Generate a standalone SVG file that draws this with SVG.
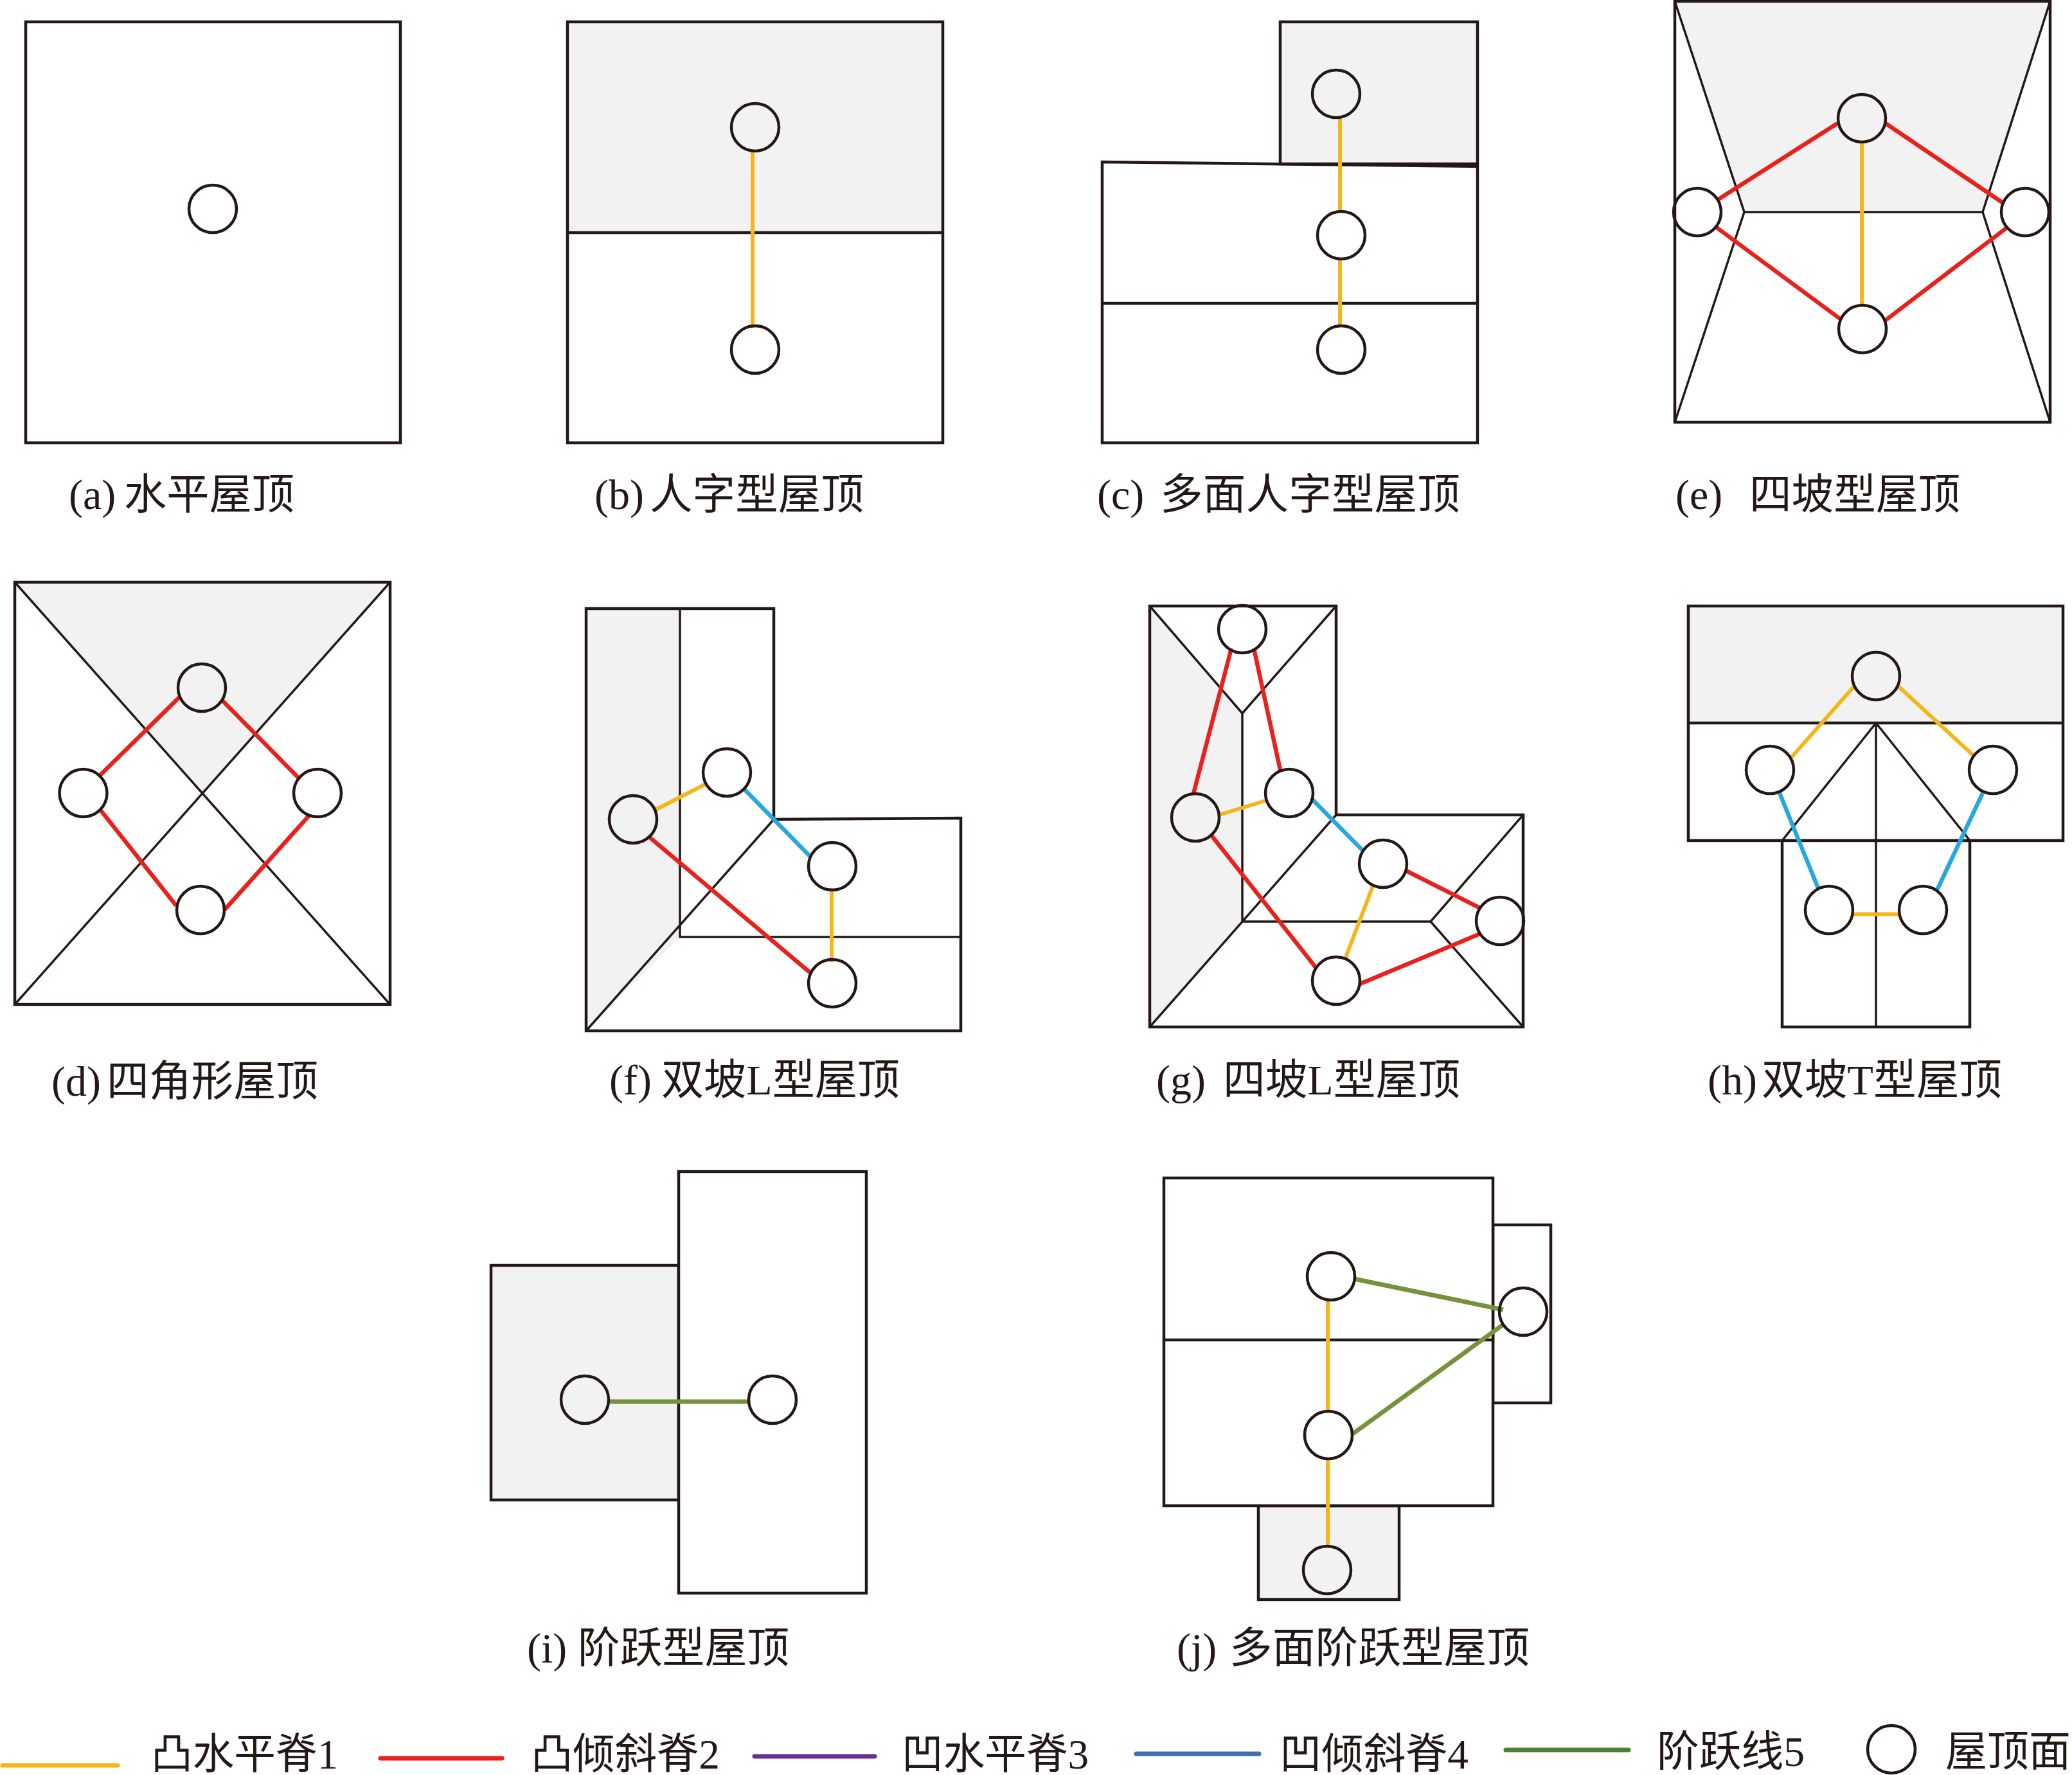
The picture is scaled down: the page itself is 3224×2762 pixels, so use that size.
<svg xmlns="http://www.w3.org/2000/svg" width="3224" height="2762" viewBox="0 0 3224 2762">
<style>
.o{fill:none;stroke:#231815;stroke-width:4.500;stroke-linejoin:miter}
.w{fill:#fff;stroke:#231815;stroke-width:4.500}
.g{fill:#f2f2f2;stroke:none}
.gs{fill:#f2f2f2;stroke:#231815;stroke-width:4.500}
.d{fill:none;stroke:#231815;stroke-width:3.500}
.n{fill:none;stroke:#231815;stroke-width:4.500}
.y{stroke:#f4b619;stroke-width:6;fill:none}
.r{stroke:#e8211d;stroke-width:6.500;fill:none}
.b{stroke:#27a7e0;stroke-width:6.500;fill:none}
.v{stroke:#76923c;stroke-width:7;fill:none}
.l{stroke-width:7;stroke-linecap:round;fill:none}
text{font-family:"Liberation Serif","Noto Sans CJK SC",serif;font-size:66px;fill:#231815}
</style>
<rect width="3224" height="2762" fill="#fff"/>
<g id="panel-a"><rect class="o" x="40" y="34" width="583" height="655"/><text x="107" y="792">(a)<tspan x="193" textLength="265" lengthAdjust="spacingAndGlyphs">水平屋顶</tspan></text></g>
<g id="panel-b"><rect class="g" x="883" y="34" width="584" height="328"/><rect class="o" x="883" y="34" width="584" height="655"/><path class="o" d="M883 362H1467"/><text x="925" y="792">(b)<tspan x="1011" textLength="333" lengthAdjust="spacingAndGlyphs">人字型屋顶</tspan></text></g>
<g id="panel-c"><rect class="gs" x="1992" y="34" width="307" height="221"/><path class="o" d="M1715 252L2299 259V689H1715ZM1715 472H2299"/><text x="1707" y="792">(c)<tspan x="1805" textLength="467" lengthAdjust="spacingAndGlyphs">多面人字型屋顶</tspan></text></g>
<g id="panel-e"><path class="g" d="M2606 2H3190L3085 330H2714Z"/><rect class="o" x="2606" y="2" width="584" height="655"/><path class="d" d="M2606 2L2714 330L2606 657M3190 2L3085 330L3190 657M2714 330H3085"/><text x="2607" y="792">(e)<tspan x="2722" textLength="328" lengthAdjust="spacingAndGlyphs">四坡型屋顶</tspan></text></g>
<g id="panel-d"><path class="g" d="M23 906H607L313 1235Z"/><rect class="o" x="23" y="906" width="584" height="657"/><path class="d" d="M23 906L607 1563M607 906L23 1563"/><text x="80" y="1705">(d)<tspan x="166" textLength="329" lengthAdjust="spacingAndGlyphs">四角形屋顶</tspan></text></g>
<g id="panel-f"><path class="g" d="M912 947H1058V1458L912 1604Z"/><path class="o" d="M912 947H1204V1275L1495 1273V1604H912Z"/><path class="d" d="M1058 947V1458H1495M1204 1275L912 1604"/><text x="948" y="1703">(f)<tspan x="1029" textLength="371" lengthAdjust="spacingAndGlyphs">双坡L型屋顶</tspan></text></g>
<g id="panel-g"><path class="g" d="M1789 943L1933 1110V1434L1789 1598Z"/><path class="o" d="M1789 943H2079V1268H2370V1598H1789Z"/><path class="d" d="M1789 943L1933 1110L2079 943M1933 1110V1434H2226L2370 1268M2226 1434L2370 1598M2079 1268L1789 1598"/><text x="1799" y="1703">(g)<tspan x="1903" textLength="369" lengthAdjust="spacingAndGlyphs">四坡L型屋顶</tspan></text></g>
<g id="panel-h"><rect class="g" x="2627" y="943" width="583" height="182"/><path class="o" d="M2627 943H3210V1308H2627ZM2627 1125H3210M2773 1308V1598H3065V1308"/><path class="d" d="M2919 1125V1598M2919 1125L2773 1308M2919 1125L3054 1294L3065 1308"/><text x="2657" y="1703">(h)<tspan x="2741" textLength="374" lengthAdjust="spacingAndGlyphs">双坡T型屋顶</tspan></text></g>
<g id="panel-i"><rect class="gs" x="764" y="1969" width="292" height="365"/><rect class="w" x="1056" y="1823" width="292" height="656"/><text x="820" y="2587">(i)<tspan x="899" textLength="329" lengthAdjust="spacingAndGlyphs">阶跃型屋顶</tspan></text></g>
<g id="panel-j"><rect class="gs" x="1958" y="2343" width="219" height="146"/><rect class="w" x="2323" y="1906" width="90" height="277"/><rect class="w" x="1811" y="1833" width="512" height="510"/><path class="o" d="M1811 2085H2323"/><text x="1831" y="2587">(j)<tspan x="1913" textLength="467" lengthAdjust="spacingAndGlyphs">多面阶跃型屋顶</tspan></text></g>
<g id="connectors">
<path class="y" d="M1171 233V510"/>
<path class="y" d="M2085 184V329M2085 403V507"/>
<path class="y" d="M2897 219V477"/>
<path class="r" d="M2674 310L2859 192M2934 192L3117 316M2671 354L2863 496M2933 499L3123 354"/>
<path class="r" d="M280 1084L156 1206M346 1090L466 1212M156 1260L274 1409M481 1269L350 1415"/>
<path class="y" d="M1018 1261L1098 1220M1294 1382V1497"/>
<path class="b" d="M1158 1228L1260 1332"/>
<path class="r" d="M1011 1303L1260 1513"/>
<path class="r" d="M1916 1009L1857 1235M1951 1009L1992 1198M1885 1300L2047 1505M2186 1354L2303 1413M2116 1531L2303 1453"/>
<path class="y" d="M1897 1268L1972 1245M2136 1379L2093 1492"/>
<path class="b" d="M2040 1242L2121 1324"/>
<path class="y" d="M2884 1069L2787 1179M2954 1068L3070 1175M2882 1422.500H2955"/>
<path class="b" d="M2769 1234L2829 1382M3085 1234L3014 1385"/>
<path class="v" d="M947 2181H1165M2107 1990L2339 2038M2105 2231L2339 2061"/>
<path class="y" d="M2066 2023V2197M2066 2272V2407"/>
</g>
<g id="nodes-a"><circle class="n" cx="331" cy="325" r="37"/></g>
<g id="nodes-b"><circle class="n" cx="1175" cy="198" r="37"/><circle class="n" cx="1175" cy="544" r="37"/></g>
<g id="nodes-c"><circle class="n" cx="2079" cy="146" r="37"/><circle class="n" cx="2087" cy="366" r="37"/><circle class="n" cx="2087" cy="544" r="37"/></g>
<g id="nodes-e"><circle class="n" cx="2641" cy="330" r="37"/><circle class="n" cx="2897" cy="184" r="37"/><circle class="n" cx="3151" cy="330" r="37"/><circle class="n" cx="2898" cy="512" r="37"/></g>
<g id="nodes-d"><circle class="n" cx="314" cy="1070" r="37"/><circle class="n" cx="129.500" cy="1234" r="37"/><circle class="n" cx="494" cy="1234" r="37"/><circle class="n" cx="312" cy="1416" r="37"/></g>
<g id="nodes-f"><circle class="n" cx="985" cy="1275" r="37"/><circle class="n" cx="1131" cy="1202" r="37"/><circle class="n" cx="1295" cy="1348" r="37"/><circle class="n" cx="1295" cy="1530" r="37"/></g>
<g id="nodes-g"><circle class="n" cx="1933" cy="979" r="37"/><circle class="n" cx="1860" cy="1272" r="37"/><circle class="n" cx="2006" cy="1234" r="37"/><circle class="n" cx="2152" cy="1344" r="37"/><circle class="n" cx="2334" cy="1433" r="37"/><circle class="n" cx="2079" cy="1526" r="37"/></g>
<g id="nodes-h"><circle class="n" cx="2919" cy="1052" r="37"/><circle class="n" cx="2754" cy="1198" r="37"/><circle class="n" cx="3101" cy="1198" r="37"/><circle class="n" cx="2846" cy="1416" r="37"/><circle class="n" cx="2992" cy="1416" r="37"/></g>
<g id="nodes-i"><circle class="n" cx="910" cy="2178" r="37"/><circle class="n" cx="1202" cy="2178" r="37"/></g>
<g id="nodes-j"><circle class="n" cx="2071" cy="1986" r="37"/><circle class="n" cx="2067" cy="2233" r="37"/><circle class="n" cx="2065" cy="2443" r="37"/><circle class="n" cx="2370" cy="2041" r="37"/></g>
<g id="legend">
<path class="l" stroke="#f4b619" d="M4 2747H183"/><text x="235" y="2752" textLength="291" lengthAdjust="spacingAndGlyphs">凸水平脊1</text>
<path class="l" stroke="#e8211d" d="M592 2736H781"/><text x="826" y="2752" textLength="294" lengthAdjust="spacingAndGlyphs">凸倾斜脊2</text>
<path class="l" stroke="#673090" d="M1174 2733H1361"/><text x="1403" y="2752" textLength="291" lengthAdjust="spacingAndGlyphs">凹水平脊3</text>
<path class="l" stroke="#3f6cb5" d="M1768 2729H1959"/><text x="1991" y="2752" textLength="294" lengthAdjust="spacingAndGlyphs">凹倾斜脊4</text>
<path class="l" stroke="#4e7f35" d="M2343 2723H2534"/><text x="2578" y="2748" textLength="230" lengthAdjust="spacingAndGlyphs">阶跃线5</text>
<circle class="n" cx="2943" cy="2722" r="37"/><text x="3027" y="2748" textLength="195" lengthAdjust="spacingAndGlyphs">屋顶面</text>
</g>
</svg>
